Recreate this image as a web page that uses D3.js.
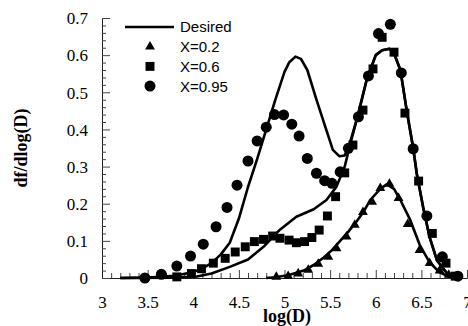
<!DOCTYPE html>
<html>
<head>
<meta charset="utf-8">
<script src="https://cdn.jsdelivr.net/npm/d3@7/dist/d3.min.js"></script>
<style>
  html, body { margin: 0; padding: 0; background: #fff; }
  svg { display: block; }
</style>
</head>
<body>
<svg id="chart" width="468" height="326"></svg>
<script>
// Size distributions df/dlog(D) versus log(D)
const xTicks = [3, 3.5, 4, 4.5, 5, 5.5, 6, 6.5, 7];
const yTicks = [0, 0.1, 0.2, 0.3, 0.4, 0.5, 0.6, 0.7];

// Desired distributions (solid lines), [log(D), df/dlog(D)]
const desired095 = [
  [3.2, 0], [3.5, 0.001], [3.8, 0.006], [4.0, 0.016], [4.1, 0.026], [4.2, 0.04],
  [4.3, 0.063], [4.4, 0.095], [4.5, 0.16], [4.6, 0.245], [4.7, 0.32], [4.8, 0.40],
  [4.9, 0.48], [5.0, 0.555], [5.05, 0.58], [5.12, 0.596], [5.18, 0.59], [5.25, 0.56],
  [5.35, 0.48], [5.45, 0.405], [5.53, 0.345], [5.6, 0.328], [5.66, 0.33], [5.7, 0.35],
  [5.8, 0.434], [5.9, 0.533], [6.0, 0.6], [6.07, 0.613], [6.15, 0.617], [6.2, 0.605],
  [6.27, 0.56], [6.34, 0.45], [6.41, 0.35], [6.45, 0.28], [6.52, 0.19], [6.59, 0.11],
  [6.67, 0.048], [6.78, 0.013], [6.9, 0.002], [6.95, 0]
];
const desired06 = [
  [3.2, 0], [3.8, 0.001], [4.04, 0.004], [4.2, 0.012], [4.4, 0.03], [4.6, 0.05],
  [4.77, 0.084], [4.95, 0.13], [5.13, 0.165], [5.32, 0.185], [5.46, 0.21],
  [5.57, 0.246], [5.66, 0.30], [5.72, 0.36],
  [5.8, 0.434], [5.9, 0.533], [6.0, 0.6], [6.07, 0.613], [6.15, 0.617], [6.2, 0.605],
  [6.27, 0.56], [6.34, 0.45], [6.41, 0.35], [6.45, 0.28], [6.52, 0.19], [6.59, 0.11],
  [6.67, 0.048], [6.78, 0.013], [6.9, 0.002], [6.95, 0]
];
const desired02 = [
  [4.8, 0], [4.9, 0.002], [5.05, 0.008], [5.21, 0.02], [5.32, 0.035], [5.43, 0.055],
  [5.52, 0.075], [5.61, 0.10], [5.7, 0.125], [5.79, 0.152], [5.87, 0.18], [5.94, 0.21],
  [6.05, 0.24], [6.12, 0.252], [6.2, 0.24], [6.27, 0.21], [6.38, 0.155], [6.48, 0.09],
  [6.59, 0.042], [6.7, 0.015], [6.8, 0.004], [6.9, 0]
];

// Measured distributions (markers)
const measured02 = [
  [4.91, 0.003], [5.04, 0.005], [5.15, 0.012], [5.26, 0.022], [5.37, 0.038], [5.48, 0.057],
  [5.57, 0.08], [5.68, 0.111], [5.77, 0.143], [5.86, 0.177], [5.96, 0.205], [6.05, 0.242],
  [6.15, 0.253], [6.25, 0.215], [6.35, 0.145], [6.48, 0.075], [6.59, 0.04], [6.70, 0.02],
  [6.8, 0.008]
];
const measured06 = [
  [3.82, 0.003], [3.98, 0.012], [4.09, 0.025], [4.22, 0.04], [4.35, 0.053], [4.46, 0.07],
  [4.57, 0.084], [4.67, 0.098], [4.77, 0.104], [4.87, 0.113], [4.95, 0.107], [5.05, 0.102],
  [5.13, 0.095], [5.22, 0.098], [5.30, 0.109], [5.38, 0.129], [5.47, 0.167], [5.56, 0.219],
  [5.66, 0.283], [5.75, 0.358], [5.86, 0.452], [5.97, 0.563], [6.07, 0.648], [6.20, 0.608],
  [6.32, 0.444], [6.47, 0.261], [6.62, 0.12], [6.77, 0.04], [6.87, 0.005]
];
const measured095 = [
  [3.47, 0.0], [3.65, 0.01], [3.82, 0.032], [3.97, 0.059], [4.11, 0.091], [4.25, 0.138],
  [4.37, 0.19], [4.48, 0.25], [4.60, 0.315], [4.70, 0.369], [4.80, 0.406], [4.89, 0.44],
  [4.99, 0.439], [5.08, 0.414], [5.16, 0.382], [5.25, 0.322], [5.35, 0.282], [5.44, 0.262],
  [5.52, 0.255], [5.61, 0.286], [5.70, 0.349], [5.81, 0.434], [5.92, 0.544], [6.03, 0.658],
  [6.16, 0.683], [6.28, 0.552], [6.41, 0.348], [6.56, 0.167], [6.73, 0.057], [6.90, 0.005]
];

const legendItems = [
  { label: "Desired", kind: "line" },
  { label: "X=0.2", kind: "triangle" },
  { label: "X=0.6", kind: "square" },
  { label: "X=0.95", kind: "circle" }
];

const svg = d3.select("#chart");
const x = d3.scaleLinear().domain([3, 7]).range([102, 467]);
const y = d3.scaleLinear().domain([0, 0.7]).range([278, 18]);

const serif = "'Liberation Serif', 'Times New Roman', serif";
const sans = "'Liberation Sans', Arial, sans-serif";

// Minor ticks (inward)
const xMinor = d3.range(30, 71).map(d => d / 10).filter(d => !xTicks.some(t => Math.abs(t - d) < 1e-9));
const yMinor = d3.range(0, 36).map(d => d / 50).filter(d => !yTicks.some(t => Math.abs(t - d) < 1e-9));

const gx = svg.append("g").attr("transform", `translate(0,${y(0)})`);
gx.call(d3.axisBottom(x).tickValues(xTicks).tickSize(-8).tickPadding(18).tickFormat(d3.format("")));
gx.append("g").call(d3.axisBottom(x).tickValues(xMinor).tickSize(-5).tickFormat(""))
  .select(".domain").remove();

const gy = svg.append("g").attr("transform", `translate(${x(3)},0)`);
gy.call(d3.axisLeft(y).tickValues(yTicks).tickSize(-8).tickPadding(14).tickFormat(d3.format("")));
gy.append("g").call(d3.axisLeft(y).tickValues(yMinor).tickSize(-4).tickFormat(""))
  .select(".domain").remove();

svg.selectAll(".domain").attr("stroke", "#222").attr("stroke-width", 1);
svg.selectAll(".tick line").attr("stroke", "#444").attr("stroke-width", 1);
svg.selectAll(".tick text").attr("font-family", serif).attr("font-size", 17).attr("fill", "#000");
gy.selectAll(".tick text").attr("dy", "0.34em");

// Axis titles
svg.append("text").attr("x", 287).attr("y", 322).attr("text-anchor", "middle")
  .attr("font-family", serif).attr("font-weight", "bold").attr("font-size", 18)
  .text("log(D)");
svg.append("text").attr("transform", "translate(27,148) rotate(-90)").attr("text-anchor", "middle")
  .attr("font-family", serif).attr("font-weight", "bold").attr("font-size", 18)
  .text("df/dlog(D)");

// Desired curves
const line = d3.line().x(d => x(d[0])).y(d => y(d[1]));
[desired095, desired06, desired02].forEach(s => {
  svg.append("path").datum(s).attr("d", line)
    .attr("fill", "none").attr("stroke", "#000").attr("stroke-width", 2.6)
    .attr("stroke-linejoin", "round");
});

// Markers
const triPath = d3.symbol().type(d3.symbolTriangle).size(42)();
const sqPath = d3.symbol().type(d3.symbolSquare).size(80)();
svg.append("g").selectAll("path").data(measured02).join("path")
  .attr("d", triPath).attr("transform", d => `translate(${x(d[0])},${y(d[1])})`).attr("fill", "#000");
svg.append("g").selectAll("path").data(measured06).join("path")
  .attr("d", sqPath).attr("transform", d => `translate(${x(d[0])},${y(d[1])})`).attr("fill", "#000");
svg.append("g").selectAll("circle").data(measured095).join("circle")
  .attr("cx", d => x(d[0])).attr("cy", d => y(d[1])).attr("r", 5.5).attr("fill", "#000");

// Legend
const lg = svg.append("g");
legendItems.forEach((it, i) => {
  const cy = 27 + i * 19.7;
  if (it.kind === "line") {
    lg.append("line").attr("x1", 125).attr("x2", 174).attr("y1", cy).attr("y2", cy)
      .attr("stroke", "#000").attr("stroke-width", 2.6);
  } else if (it.kind === "triangle") {
    lg.append("path").attr("d", triPath).attr("transform", `translate(150,${cy})`).attr("fill", "#000");
  } else if (it.kind === "square") {
    lg.append("path").attr("d", sqPath).attr("transform", `translate(150,${cy})`).attr("fill", "#000");
  } else {
    lg.append("circle").attr("cx", 150).attr("cy", cy).attr("r", 5.5).attr("fill", "#000");
  }
  lg.append("text").attr("x", 180).attr("y", cy).attr("dy", "0.36em")
    .attr("font-family", sans).attr("font-size", 15).attr("fill", "#000").text(it.label);
});
</script>
</body>
</html>
